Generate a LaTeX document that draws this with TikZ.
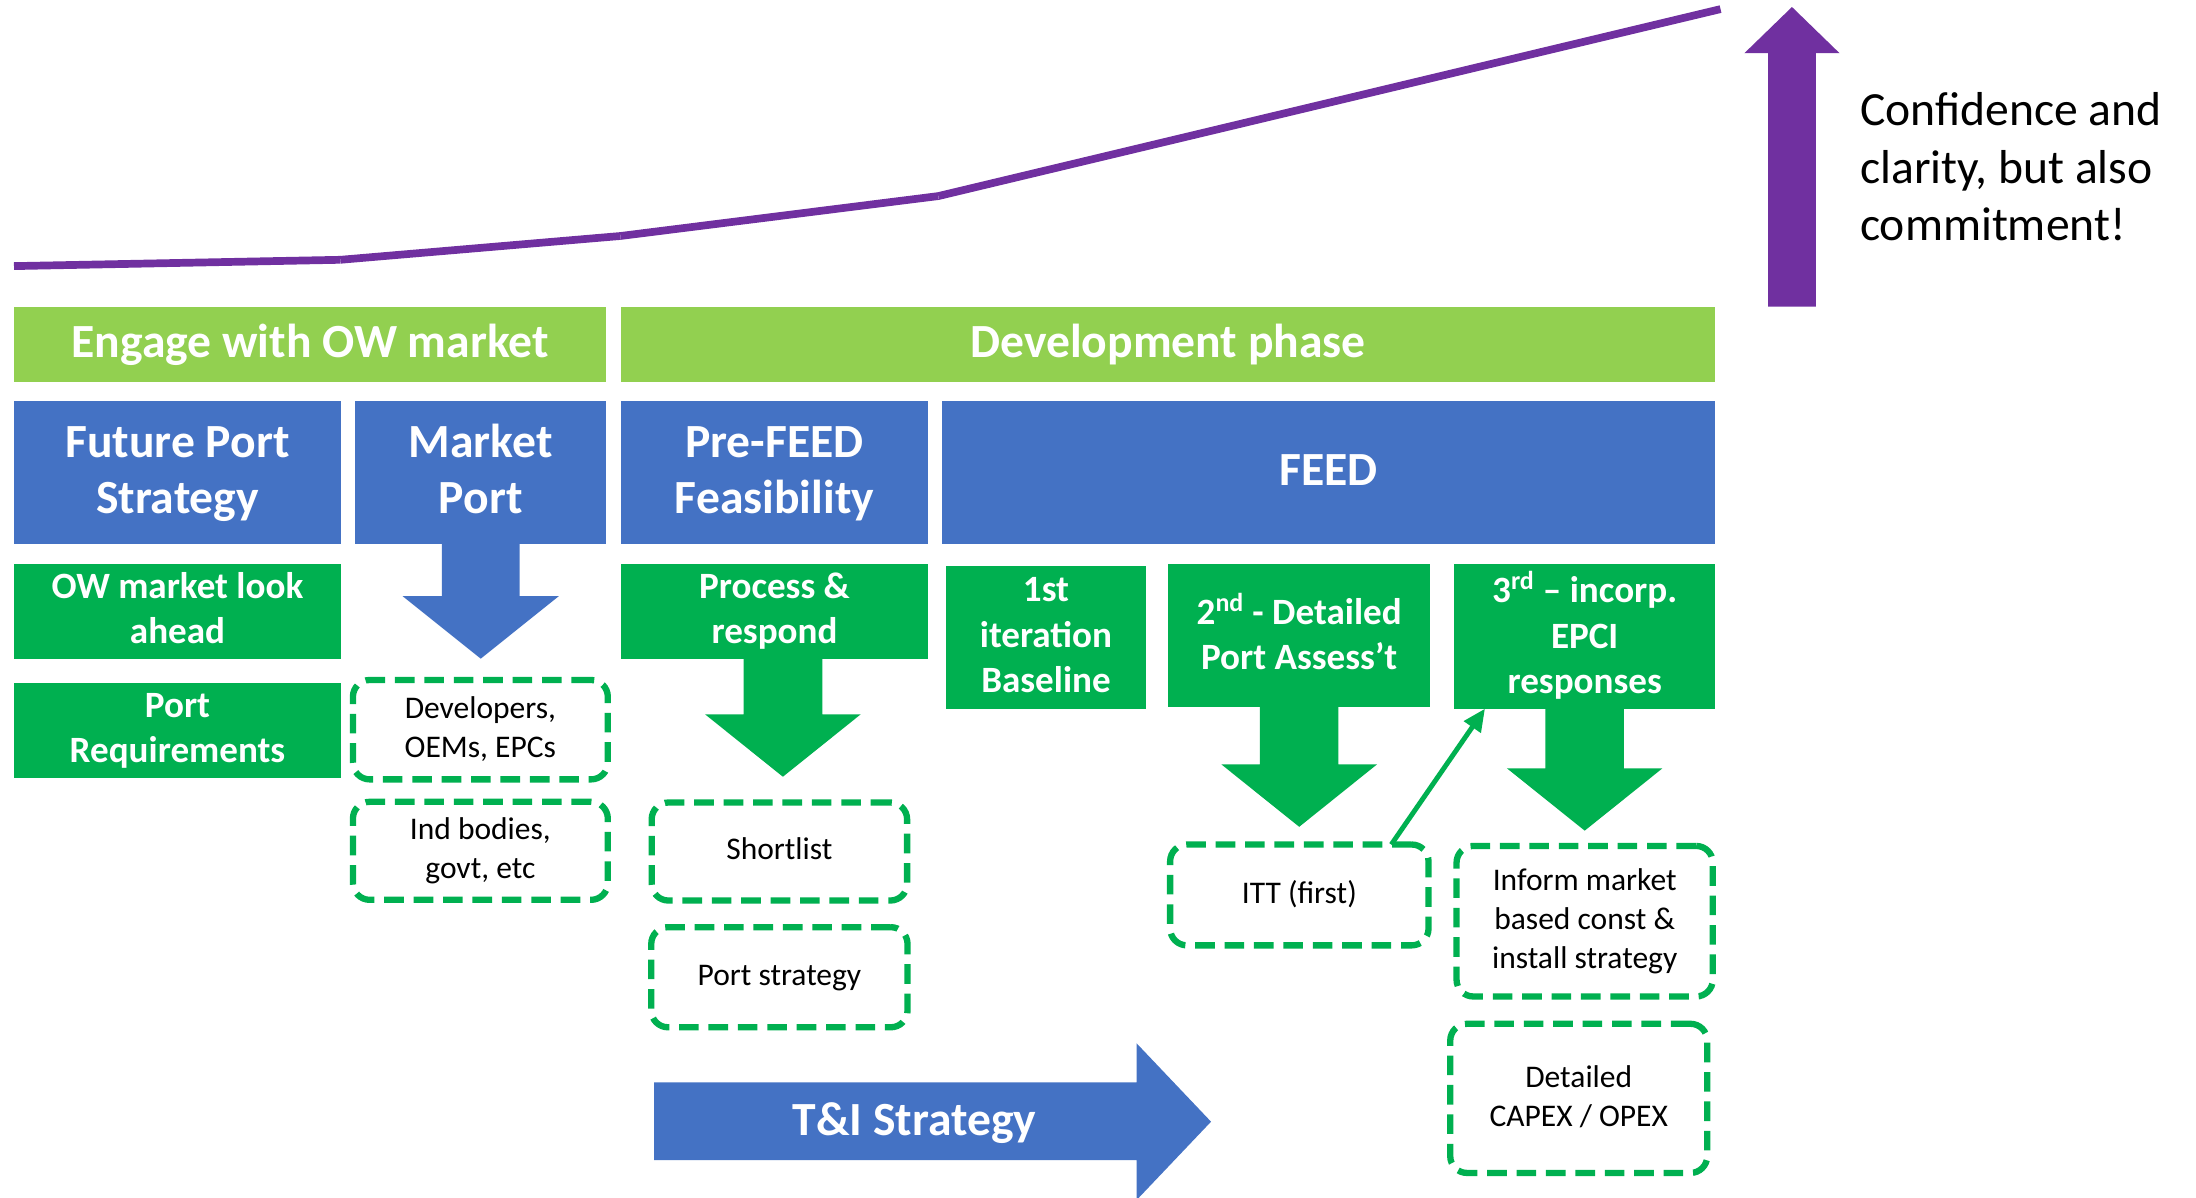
\documentclass[tikz,border=0pt]{standalone}
\usepackage{fontspec}
\setmainfont{Carlito}
\usetikzlibrary{calc,arrows.meta}
\definecolor{lgreen}{HTML}{92D050}
\definecolor{oblue}{HTML}{4472C4}
\definecolor{ogreen}{HTML}{00B050}
\definecolor{opurple}{HTML}{7030A0}
\newcommand{\st}{\rule[-0.2em]{0pt}{0.93em}}
\tikzset{
  box/.style={inner sep=0pt, outer sep=0pt, align=center, text=white},
  header/.style={box, fill=lgreen, font=\fontsize{34}{40}\selectfont\bfseries},
  bluebox/.style={box, fill=oblue, font=\fontsize{34}{40}\selectfont\bfseries},
  greenbox/.style={box, fill=ogreen, font=\fontsize{26.5}{32.5}\selectfont\bfseries},
  dashbox/.style={draw=ogreen, line width=4.5pt, dash pattern=on 14pt off 7pt, rounded corners=12pt, inner sep=0pt, outer sep=0pt, align=center, font=\fontsize{22.5}{28}\selectfont},
  sz/.style 2 args={minimum width=#1pt, minimum height=#2pt},
  trend/.style={draw=opurple, line width=5.5pt},
}
\newcommand{\blockdown}[6]{%
  \fill[#1] ($(#2)+(-#3,0)$) -- ($(#2)+(-#3,#4)$) -- ($(#2)+(-#5,#4)$) -- ($(#2)+(0,#4+#6)$) -- ($(#2)+(#5,#4)$) -- ($(#2)+(#3,#4)$) -- ($(#2)+(#3,0)$) -- cycle;}
\begin{document}
\begin{tikzpicture}[x=1pt,y=-1pt]
\useasboundingbox (0,0) rectangle (1568,855);
\clip (0,0) rectangle (1568,855);
\fill[white] (0,0) rectangle (1568,855);

% trend line
\coordinate (c0) at (10,190);
\coordinate (c1) at (243,185.5);
\coordinate (c2) at (443,168.5);
\coordinate (c3) at (670,140);
\coordinate (c4) at (1228.5,6.5);
\draw[trend] (c0) -- (c1);
\draw[trend] (c1) -- (c2);
\draw[trend] (c2) -- (c3);
\draw[trend] (c3) -- (c4);

% purple up arrow
\fill[opurple] (1262.5,219) -- (1262.5,38) -- (1245.5,38) -- (1279.5,5) -- (1313.5,38) -- (1296.5,38) -- (1296.5,219) -- cycle;
\node[anchor=north west, inner sep=0pt, align=left, font=\fontsize{34}{41}\selectfont] (conf) at (1328,66) {Confidence and\\clarity, but also\\commitment!};

% headers
\node[header, sz={423}{54}] (hEngage) at (221.5,246) {\st Engage with OW market};
\node[header, sz={781.3}{54}] (hDev) at (834,246) {\st Development phase};

% blue boxes
\node[bluebox, sz={233.5}{102}] (bFuture) at (126.75,337.5) {\st Future Port\\\st Strategy};
\node[bluebox, sz={179.5}{102}] (bMarket) at (343.25,337.5) {\st Market\\\st Port};
\node[bluebox, sz={219.3}{102}] (bPre) at (553,337.5) {\st Pre-FEED\\\st Feasibility};
\node[bluebox, sz={552}{102}] (bFEED) at (948.65,337.5) {\st FEED};

% green boxes
\node[greenbox, sz={233.5}{67.6}] (gOW) at (126.75,436.5) {\st OW market look\\\st ahead};
\node[greenbox, sz={233.5}{67.6}] (gPortReq) at (126.75,521.5) {\st Port\\\st Requirements};
\node[greenbox, sz={219.3}{67.6}] (gProcess) at (553,436.5) {\st Process \&\\\st respond};
\node[greenbox, sz={143.3}{102}] (g1st) at (746.85,455) {\st 1st\\\st iteration\\\st Baseline};
\node[greenbox, sz={187.3}{102}] (g2nd) at (927.65,453.65) {\st 2\textsuperscript{nd} - Detailed\\\st Port Assess’t};
\node[greenbox, sz={186.4}{103.3}] (g3rd) at (1131.5,454.35) {\st 3\textsuperscript{rd} – incorp.\\\st EPCI\\\st responses};

% block arrows down
\blockdown{oblue}{bMarket.south}{27.8}{37.1}{55.85}{44.7}
\coordinate (pa) at ($(gProcess.south)+(6,0)$);
\blockdown{ogreen}{pa}{28.1}{39.7}{55.6}{44.6}
\blockdown{ogreen}{g2nd.south}{28}{41.1}{55.6}{44.6}
\blockdown{ogreen}{g3rd.south}{28}{42.6}{55.5}{44.5}

% dashed boxes
\node[dashbox, sz={182}{71}] (dDev) at (343,521) {\st Developers,\\\st OEMs, EPCs};
\node[dashbox, sz={182}{70}] (dInd) at (343,607.5) {\st Ind bodies,\\\st govt, etc};
\node[dashbox, sz={182.4}{70}] (dShort) at (556.5,608) {\st Shortlist};
\node[dashbox, sz={183}{71.5}] (dPortStr) at (556.5,697.75) {\st Port strategy};
\node[dashbox, sz={184.5}{72}] (dITT) at (927.75,639) {\st ITT (first)};
\node[dashbox, sz={183}{107.5}] (dInform) at (1131.5,657.75) {\st Inform market\\\st based const \&\\\st install strategy};
\node[dashbox, sz={183.5}{106.5}] (dCapex) at (1127.25,784.25) {\st Detailed\\\st CAPEX / OPEX};

% feedback arrow
\draw[ogreen, line width=3.5pt, -{Triangle[length=16pt,width=14pt]}] ($(dITT.north east)+(-26.6,0)$) -- ($(g3rd.south west)+(22,0)$);

% T&I strategy arrow
\fill[oblue] (467,772.8) -- (811.6,772.8) -- (811.6,745) -- (864.7,800.9) -- (811.6,856.8) -- (811.6,828.3) -- (467,828.3) -- cycle;
\node[box, font=\fontsize{34}{40}\selectfont\bfseries] (tTI) at (653,802) {\st T\&I Strategy};
\end{tikzpicture}
\end{document}
